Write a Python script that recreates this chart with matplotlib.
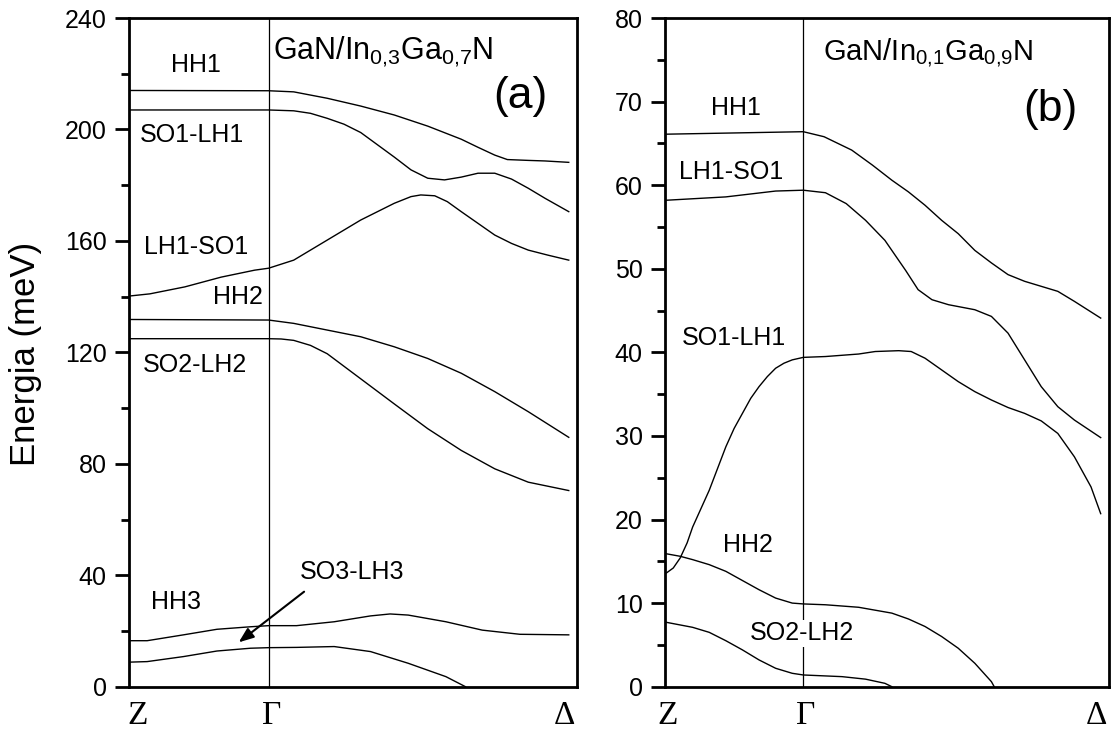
import matplotlib
matplotlib.use("Agg")
import matplotlib.pyplot as plt
from matplotlib.ticker import MultipleLocator

plt.rcParams['font.family'] = ['Liberation Sans', 'DejaVu Sans']
plt.rcParams['mathtext.fontset'] = 'custom'
plt.rcParams['mathtext.rm'] = 'Liberation Sans'
plt.rcParams['mathtext.it'] = 'Liberation Sans'
plt.rcParams['mathtext.default'] = 'regular'

# k along Z -> Gamma -> Delta, Gamma at k = 0, Z at k = -1
# ---- panel (a): GaN/In0.3Ga0.7N, energies in meV ----
a_hh1_k = [-1, 0, 0.18, 0.42, 0.66, 0.90, 1.14, 1.38, 1.50, 1.62, 1.71, 1.86, 1.98, 2.15]
a_hh1_e = [214, 213.9, 213.5, 211.2, 208.4, 205.2, 201.2, 196.5, 193.6, 190.8, 189.2, 188.9, 188.7, 188.2]

a_so1_k = [-1, 0, 0.18, 0.30, 0.42, 0.54, 0.66, 0.78, 0.90, 1.02, 1.14, 1.26, 1.38, 1.50,
           1.62, 1.74, 1.86, 1.98, 2.15]
a_so1_e = [207.0, 207.0, 206.7, 205.8, 204.0, 201.9, 198.9, 194.5, 190.1, 185.5, 182.5, 181.9,
           182.9, 184.3, 184.3, 182.2, 178.9, 175.3, 170.5]

a_lh1_k = [-1, -0.85, -0.6, -0.34, -0.1, 0, 0.18, 0.42, 0.66, 0.90, 1.02, 1.09, 1.19, 1.28,
           1.38, 1.50, 1.62, 1.74, 1.86, 2.00, 2.15]
a_lh1_e = [140.2, 141, 143.5, 147, 149.5, 150.2, 153.1, 160.3, 167.5, 173.5, 175.9, 176.5,
           176.2, 174.1, 170.5, 166.3, 162.1, 159.1, 156.7, 154.9, 153.1]

a_hh2_k = [-1, 0, 0.18, 0.42, 0.66, 0.90, 1.14, 1.38, 1.62, 1.86, 2.15]
a_hh2_e = [131.8, 131.6, 130.4, 128.0, 125.6, 122.0, 117.8, 112.5, 105.9, 98.7, 89.5]

a_so2_k = [-1, 0, 0.09, 0.18, 0.30, 0.42, 0.66, 0.90, 1.14, 1.38, 1.62, 1.86, 2.15]
a_so2_e = [124.9, 124.9, 124.8, 124.3, 122.5, 119.5, 110.5, 101.5, 92.6, 84.8, 78.2, 73.4, 70.4]

a_hh3_k = [-1, -0.87, -0.61, -0.37, -0.13, 0, 0.2, 0.47, 0.73, 0.87, 1.0, 1.27, 1.53, 1.8, 2.15]
a_hh3_e = [16.5, 16.5, 18.6, 20.6, 21.5, 21.9, 21.9, 23.3, 25.4, 26.1, 25.7, 23.3, 20.3, 18.8, 18.6]

a_so3_k = [-1, -0.87, -0.61, -0.37, -0.13, 0, 0.2, 0.47, 0.73, 1.0, 1.27, 1.41]
a_so3_e = [8.8, 9.0, 10.8, 12.8, 13.8, 14.0, 14.1, 14.4, 12.6, 8.4, 3.6, 0.0]

# ---- panel (b): GaN/In0.1Ga0.9N ----
b_hh1_k = [-1, 0, 0.15, 0.35, 0.50, 0.64, 0.76, 0.88, 1.0, 1.12, 1.24, 1.36, 1.48, 1.6,
           1.72, 1.84, 1.96, 2.15]
b_hh1_e = [66.1, 66.4, 65.8, 64.2, 62.4, 60.6, 59.2, 57.6, 55.8, 54.2, 52.2, 50.7, 49.3, 48.5,
           47.9, 47.3, 46.1, 44.1]

b_lh1_k = [-0.99, -0.56, -0.2, 0, 0.16, 0.31, 0.45, 0.59, 0.74, 0.83, 0.93, 1.05, 1.24, 1.36,
           1.48, 1.60, 1.72, 1.84, 1.96, 2.15]
b_lh1_e = [58.2, 58.6, 59.3, 59.4, 59.1, 57.8, 55.8, 53.4, 49.8, 47.5, 46.3, 45.7, 45.1, 44.3,
           42.3, 39.1, 35.9, 33.5, 31.9, 29.8]

b_so1_k = [-0.99, -0.94, -0.89, -0.84, -0.80, -0.74, -0.68, -0.62, -0.56, -0.50, -0.44, -0.38,
           -0.32, -0.26, -0.20, -0.14, -0.08, 0, 0.16, 0.40, 0.52, 0.69, 0.78, 0.88, 1.0,
           1.12, 1.24, 1.36, 1.48, 1.60, 1.72, 1.84, 1.96, 2.08, 2.15]
b_so1_e = [13.6, 14.2, 15.4, 17.2, 19.1, 21.3, 23.5, 26.1, 28.7, 30.9, 32.7, 34.5,
           35.9, 37.1, 38.1, 38.7, 39.1, 39.4, 39.5, 39.8, 40.1, 40.2, 40.1, 39.3, 37.9,
           36.5, 35.3, 34.3, 33.4, 32.7, 31.8, 30.3, 27.5, 23.9, 20.7]

b_hh2_k = [-0.99, -0.89, -0.80, -0.68, -0.56, -0.44, -0.32, -0.20, -0.08, 0, 0.16, 0.40,
           0.64, 0.76, 0.88, 1.0, 1.12, 1.24, 1.36, 1.38]
b_hh2_e = [15.9, 15.6, 15.2, 14.6, 13.8, 12.7, 11.6, 10.6, 10.0, 9.9, 9.8, 9.5,
           8.8, 8.1, 7.2, 6.0, 4.6, 2.8, 0.6, 0.0]

b_so2_k = [-0.99, -0.80, -0.68, -0.56, -0.44, -0.32, -0.20, -0.08, 0, 0.28, 0.45, 0.59, 0.64]
b_so2_e = [7.7, 7.1, 6.5, 5.5, 4.4, 3.2, 2.2, 1.6, 1.4, 1.2, 0.9, 0.4, 0.0]

k_labels = ['Z', '\u0393', '\u0394']

fig = plt.figure(figsize=(11.12, 7.33), dpi=100)
ax1 = fig.add_axes([0.116, 0.0632, 0.403, 0.9122])
ax2 = fig.add_axes([0.598, 0.0632, 0.3993, 0.9122])

def style(ax, ymax, major, minor, zpos):
    ax.set_xlim(-1, 2.21)
    ax.set_ylim(0, ymax)
    ax.axvline(0, color='black', lw=0.9, zorder=1)
    ax.yaxis.set_major_locator(MultipleLocator(major))
    ax.yaxis.set_minor_locator(MultipleLocator(minor))
    ax.tick_params(axis='y', which='major', direction='out', length=10, width=2,
                   labelsize=18, pad=6)
    ax.tick_params(axis='y', which='minor', direction='out', length=6, width=2)
    ax.set_xticks([zpos, 0.02, 2.12])
    ax.set_xticklabels(k_labels, family=['Liberation Serif', 'DejaVu Serif'], fontsize=24)
    ax.tick_params(axis='x', length=0, pad=10)
    for s in ax.spines.values():
        s.set_linewidth(2)

lw = 1.0
# panel (a)
for k, e in [(a_hh1_k, a_hh1_e), (a_so1_k, a_so1_e), (a_lh1_k, a_lh1_e),
             (a_hh2_k, a_hh2_e), (a_so2_k, a_so2_e), (a_hh3_k, a_hh3_e), (a_so3_k, a_so3_e)]:
    ax1.plot(k, e, color='black', lw=lw)
style(ax1, 240, 40, 20, -0.94)

lab = dict(fontsize=18, ha='center', va='center')
ax1.text(-0.52, 223.1, 'HH1', **lab)
ax1.text(-0.55, 198.0, 'SO1-LH1', **lab)
ax1.text(-0.52, 157.8, 'LH1-SO1', **lab)
ax1.text(-0.22, 139.8, 'HH2', **lab)
ax1.text(-0.53, 115.4, 'SO2-LH2', **lab)
ax1.text(-0.66, 30.4, 'HH3', **lab)
ax1.text(0.60, 41.2, 'SO3-LH3', **lab)
ax1.annotate('', xy=(-0.23, 15.3), xytext=(0.27, 34.7),
             arrowprops=dict(arrowstyle='-|>,head_length=0.9,head_width=0.35',
                             color='black', lw=1.5))
ax1.text(0.03, 225.0, 'GaN/In$_{0{,}3}$Ga$_{0{,}7}$N', fontsize=22, ha='left', va='baseline')
ax1.text(2.0, 211.8, '(a)', fontsize=32, ha='right', va='center')

# panel (b)
for k, e in [(b_hh1_k, b_hh1_e), (b_lh1_k, b_lh1_e), (b_so1_k, b_so1_e),
             (b_hh2_k, b_hh2_e), (b_so2_k, b_so2_e)]:
    ax2.plot(k, e, color='black', lw=lw)
style(ax2, 80, 10, 5, -0.98)

ax2.text(-0.49, 69.2, 'HH1', **lab)
ax2.text(-0.52, 61.6, 'LH1-SO1', **lab)
ax2.text(-0.50, 41.7, 'SO1-LH1', **lab)
ax2.text(-0.40, 17.0, 'HH2', **lab)
ax2.text(-0.01, 6.4, 'SO2-LH2', zorder=3,
         bbox=dict(facecolor='white', edgecolor='none', pad=1), **lab)
ax2.text(0.14, 75.0, 'GaN/In$_{0{,}1}$Ga$_{0{,}9}$N', fontsize=21, ha='left', va='baseline')
ax2.text(1.98, 69.0, '(b)', fontsize=32, ha='right', va='center')

fig.text(0.0225, 1 - 354 / 733, 'Energia (meV)', rotation=90, fontsize=25,
         ha='center', va='center')

fig.savefig('out.png', dpi=100)
